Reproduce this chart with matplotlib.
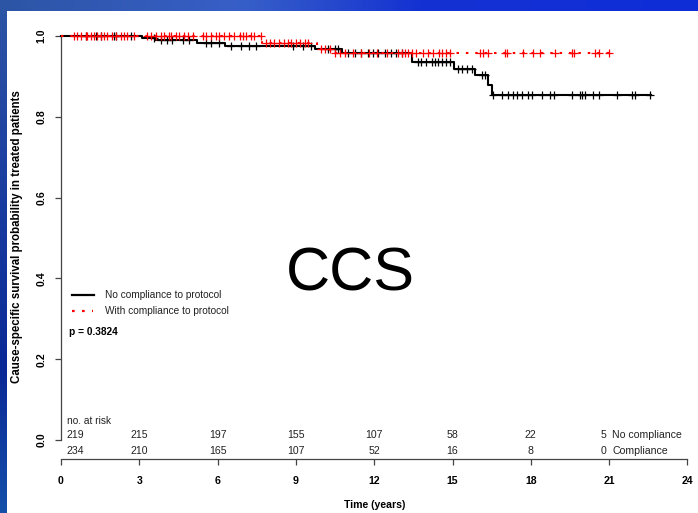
import numpy as np
import matplotlib
matplotlib.use("Agg")
import matplotlib.pyplot as plt
from matplotlib import transforms
from matplotlib.patches import Rectangle
from matplotlib.lines import Line2D

plt.rcParams['font.family'] = ['Liberation Sans', 'DejaVu Sans']

# ---- survival data ----
nc_step_times = [3.1, 3.6, 5.2, 6.3, 9.75, 10.75, 13.45, 15.05, 15.85, 16.35, 16.5]
nc_levels = [0.994, 0.989, 0.983, 0.976, 0.967, 0.958, 0.936, 0.919, 0.903, 0.878, 0.854]
nc_end = 22.6
nc_censor = [0.95, 1.33, 1.52, 2.04, 2.10, 2.68, 3.57, 3.83, 4.08, 4.27, 4.66, 4.92,
             5.56, 5.75, 6.07, 6.52, 6.90, 7.22, 7.48, 8.88, 9.27, 9.59, 10.23, 10.48,
             10.61, 11.0, 11.25, 11.51, 11.76, 11.96, 12.15, 12.40, 12.66, 12.85, 13.05,
             13.68, 13.81, 14.0, 14.2, 14.32, 14.45, 14.58, 14.77, 14.9, 15.22, 15.35,
             15.54, 15.73, 16.12, 16.24, 16.56, 16.88, 17.14, 17.33, 17.46, 17.65, 17.91,
             18.04, 18.42, 18.74, 18.87, 19.57, 19.89, 19.96, 20.08, 20.40, 20.60, 21.30,
             21.88, 22.0, 22.55]

c_step_times = [7.7, 9.8, 10.3]
c_levels = [0.983, 0.967, 0.957]
c_end = 21.0
c_censor = [0.50, 0.63, 0.76, 0.95, 1.01, 1.14, 1.27, 1.39, 1.52, 1.65, 1.77, 1.97,
            2.10, 2.29, 2.42, 2.54, 2.80, 3.31, 3.45, 3.64, 3.83, 3.96, 4.15, 4.21,
            4.40, 4.53, 4.72, 4.85, 5.04, 5.43, 5.56, 5.75, 5.94, 6.07, 6.26, 6.45,
            6.64, 6.84, 6.96, 7.09, 7.28, 7.41, 7.67, 7.86, 7.99, 8.18, 8.37, 8.56,
            8.69, 8.82, 9.01, 9.14, 9.33, 9.46, 9.97, 10.10, 10.29, 10.48, 10.68,
            10.9, 11.2, 11.5, 11.8, 12.1, 12.5, 12.9, 13.05, 13.18, 13.31, 13.43,
            13.62, 13.88, 14.07, 14.26, 14.49, 14.58, 14.77, 14.90, 16.05, 16.18,
            16.37, 17.01, 17.07, 17.72, 18.10, 18.36, 18.93, 19.57, 19.64, 20.47,
            20.60, 20.98]

risk_times = [0, 3, 6, 9, 12, 15, 18, 21]
risk_nc = [219, 215, 197, 155, 107, 58, 22, 5]
risk_c = [234, 210, 165, 107, 52, 16, 8, 0]

x_ticks = [0, 3, 6, 9, 12, 15, 18, 21, 24]
y_ticks = [0.0, 0.2, 0.4, 0.6, 0.8, 1.0]

W, H = 698, 513
fig = plt.figure(figsize=(W / 100, H / 100), dpi=100)


def fx(px):
    return px / W


def fy(py):
    return 1 - py / H


# ---- slide background ----
bg = fig.add_axes([0, 0, 1, 1], zorder=-10)
bg.set_axis_off()
xs = np.linspace(0, 1, W)
ys = np.linspace(0, 1, H)
hstops = [0, 0.35, 0.6, 1.0]
hcols = np.array([(45, 85, 165), (55, 95, 200), (20, 50, 210), (15, 45, 215)]) / 255
vstops = [0, 0.4, 0.72, 1.0]
vcols = np.array([(45, 85, 165), (25, 60, 160), (10, 40, 150), (20, 80, 170)]) / 255
hrow = np.stack([np.interp(xs, hstops, hcols[:, k]) for k in range(3)], axis=-1)
vcol = np.stack([np.interp(ys, vstops, vcols[:, k]) for k in range(3)], axis=-1)
img = np.where((np.arange(H) < 14)[:, None, None], hrow[None, :, :], vcol[:, None, :])
bg.imshow(img, aspect='auto', extent=[0, 1, 0, 1], origin='upper')
bg.add_patch(Rectangle((fx(7), 0), 1 - fx(7), fy(11), transform=fig.transFigure,
                       facecolor='white', edgecolor='none'))
bg.set_xlim(0, 1)
bg.set_ylim(0, 1)

# ---- main axes ----
px0, pxu = 61.0, 26.1      # pixel at t=0, pixels per year
py0, pyu = 440.0, 404.0    # pixel at S=0, pixels per unit
ax_l, ax_r, ax_t, ax_b = 50, 698, 25, 459
ax = fig.add_axes([fx(ax_l), fy(ax_b), (ax_r - ax_l) / W, (ax_b - ax_t) / H])
ax.patch.set_alpha(0)
ax.set_xlim((ax_l - px0) / pxu, (ax_r - px0) / pxu)
ax.set_ylim((py0 - ax_b) / pyu, (py0 - ax_t) / pyu)

for s in ['top', 'right']:
    ax.spines[s].set_visible(False)
ax.spines['left'].set_position(('data', 0))
ax.spines['left'].set_bounds(0, 1)
ax.spines['bottom'].set_bounds(0, 24)
for s in ['left', 'bottom']:
    ax.spines[s].set_color('#444444')
    ax.spines[s].set_linewidth(0.9)

ax.set_xticks(x_ticks)
ax.set_xticklabels([str(t) for t in x_ticks], fontweight='bold', fontsize=7.6)
ax.set_yticks(y_ticks)
ax.set_yticklabels([f"{v:.1f}" for v in y_ticks], fontweight='bold', fontsize=7.6,
                   rotation=90, va='center')
ax.tick_params(axis='both', direction='out', length=4.5, width=0.9, color='#444444')
ax.tick_params(axis='x', pad=8)
ax.tick_params(axis='y', pad=6)

ax.set_xlabel('Time (years)', fontweight='bold', fontsize=7.6)
ax.xaxis.set_label_coords(12, (py0 - 505) / pyu, transform=ax.transData)
ax.xaxis.label.set_va('center')
fig.text(fx(17), fy(237), 'Cause-specific survival probability in treated patients',
         rotation=90, ha='center', va='center', fontweight='bold', fontsize=8.3)


def step_curve(times, levels, end):
    t = np.concatenate([[0.0], times, [end]])
    s = np.concatenate([[1.0], levels, [levels[-1]]])
    return t, s


def level_at(times, levels, t):
    lv = np.concatenate([[1.0], levels])
    idx = np.searchsorted(np.asarray(times), np.asarray(t), side='right')
    return lv[idx]


red_ls = (0, (1.2, 3.3))

# No compliance (solid black)
t, s = step_curve(nc_step_times, nc_levels, nc_end)
ax.step(t, s, where='post', color='black', lw=1.5, zorder=3)
ax.plot(nc_censor, level_at(nc_step_times, nc_levels, nc_censor), ls='none',
        marker='+', ms=6, mew=0.9, color='black', zorder=3)

# With compliance (dotted red)
t, s = step_curve(c_step_times, c_levels, c_end)
ax.step(t, s, where='post', color='red', lw=1.5, ls=red_ls, zorder=4)
ax.plot(c_censor, level_at(c_step_times, c_levels, c_censor), ls='none',
        marker='+', ms=6, mew=0.9, color='red', zorder=4)

# ---- legend & p-value ----
fig.add_artist(Line2D([fx(72), fx(94)], [fy(294.5), fy(294.5)], color='black', lw=1.6))
fig.add_artist(Line2D([fx(71.5), fx(93)], [fy(310.5), fy(310.5)], color='red', lw=1.6,
                      ls=red_ls))
fig.text(fx(105), fy(295), 'No compliance to protocol', fontsize=7.3, va='center',
         color='#222222')
fig.text(fx(105), fy(311), 'With compliance to protocol', fontsize=7.3, va='center',
         color='#222222')
fig.text(fx(69), fy(332), 'p = 0.3824', fontsize=7.3, va='center', fontweight='bold')

# ---- number at risk ----
tr = transforms.blended_transform_factory(ax.transData, fig.transFigure)
fig.text(fx(67), fy(421), 'no. at risk', fontsize=7.3, va='center', color='#222222')
for vals, name, py in [(risk_nc, 'No compliance', 435), (risk_c, 'Compliance', 451)]:
    for i, (tt, v) in enumerate(zip(risk_times, vals)):
        kw = dict(transform=tr, va='center', fontsize=7.6, color='#222222')
        if i == 0:
            ax.text(0.2, fy(py), str(v), ha='left', **kw)
        elif i == len(risk_times) - 1:
            ax.text(tt - 0.12, fy(py), str(v), ha='right', **kw)
            ax.text(tt + 0.12, fy(py), name, ha='left', **kw)
        else:
            ax.text(tt, fy(py), str(v), ha='center', **kw)

# ---- slide title ----
fig.text(fx(350), fy(275), 'CCS', fontsize=44, ha='center', va='center', color='black')

fig.savefig('out.png', dpi=100)
